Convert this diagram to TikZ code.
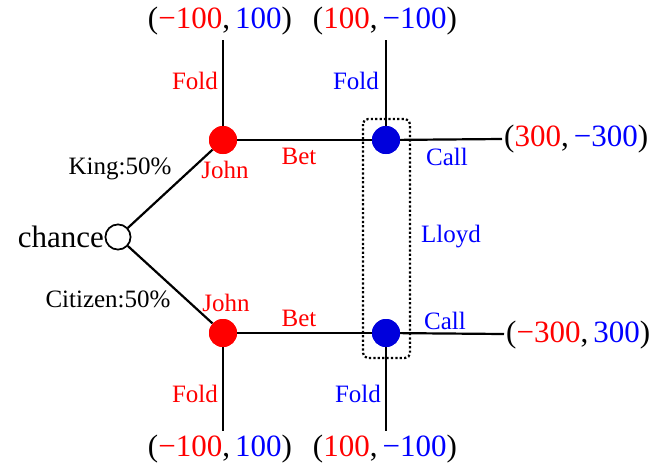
\documentclass[tikz,border=0pt]{standalone}
\usepackage{fontspec}
\setmainfont{Liberation Serif}
\definecolor{cblue}{RGB}{0,0,220}
\tikzset{
  lbl/.style={font=\fontsize{25}{27}\selectfont, inner sep=0pt},
  pay/.style={font=\fontsize{31}{33}\selectfont, inner sep=0pt},
  jnode/.style={circle, fill=red, minimum size=28pt, inner sep=0pt},
  lnode/.style={circle, fill=cblue, minimum size=28pt, inner sep=0pt},
  chnode/.style={circle, draw, line width=1.6pt, fill=white, minimum size=25pt, inner sep=0pt},
  edge/.style={line width=2.2pt, black},
}
\newcommand{\rd}[1]{\textcolor{red}{#1}}
\newcommand{\bl}[1]{\textcolor{blue}{#1}}
\begin{document}
\begin{tikzpicture}[x=1pt,y=-1pt]
\useasboundingbox (0,0) rectangle (665,467);
% nodes
\node[chnode] (c) at (118,237) {};
\node[jnode] (j1) at (223,140) {};
\node[jnode] (j2) at (223,333) {};
\node[lnode] (l1) at (386,140) {};
\node[lnode] (l2) at (386,333) {};
% end points
\coordinate (f1) at (223,40);
\coordinate (f2) at (386,40);
\coordinate (c1) at (502,139);
\coordinate (f3) at (223,431);
\coordinate (f4) at (386,431);
\coordinate (c2) at (504,334);
% edges
\draw[edge] (c) -- (j1);
\draw[edge] (c) -- (j2);
\draw[edge] (j1) -- (f1);
\draw[edge] (j1) -- (l1);
\draw[edge] (l1) -- (f2);
\draw[edge] (l1) -- (c1);
\draw[edge] (j2) -- (f3);
\draw[edge] (j2) -- (l2);
\draw[edge] (l2) -- (f4);
\draw[edge] (l2) -- (c2);
% redraw circles on top
\node[jnode] at (j1) {};
\node[jnode] at (j2) {};
\node[lnode] at (l1) {};
\node[lnode] at (l2) {};
\node[chnode] at (c) {};
% information set
\draw[line width=2.2pt, dash pattern=on 2.2pt off 2.2pt, rounded corners=5pt] (363,119) rectangle (410,358);
% labels
\node[lbl, font=\fontsize{31}{33}\selectfont, anchor=east] (ch) at (104,237) {chance};
\node[lbl] (k) at (120,169) {King:50\%};
\node[lbl] (ci) at (108,299) {Citizen:50\%};
\node[lbl, text=red] (jl1) at (225,170) {John};
\node[lbl, text=red] (jl2) at (226,303) {John};
\node[lbl, text=red] (b1) at (299,156) {Bet};
\node[lbl, text=red] (b2) at (299,318) {Bet};
\node[lbl, text=red] (fl1) at (195,81) {Fold};
\node[lbl, text=red] (fl3) at (195,394) {Fold};
\node[lbl, text=blue] (fl2) at (356,81) {Fold};
\node[lbl, text=blue] (fl4) at (358,394) {Fold};
\node[lbl, text=blue] (cl1) at (447,157) {Call};
\node[lbl, text=blue] (cl2) at (445,321) {Call};
\node[lbl, text=blue] (ll) at (451,237) {Lloyd};
% payoffs
\node[pay] (p1) at (220,21) {(\rd{−100},\,\bl{100})};
\node[pay] (p2) at (385,21) {(\rd{100},\,\bl{−100})};
\node[pay, anchor=west] (p3) at (504,139) {(\rd{300},\,\bl{−300})};
\node[pay, anchor=west] (p4) at (506,335) {(\rd{−300},\,\bl{300})};
\node[pay] (p5) at (220,449) {(\rd{−100},\,\bl{100})};
\node[pay] (p6) at (385,449) {(\rd{100},\,\bl{−100})};
\end{tikzpicture}
\end{document}
